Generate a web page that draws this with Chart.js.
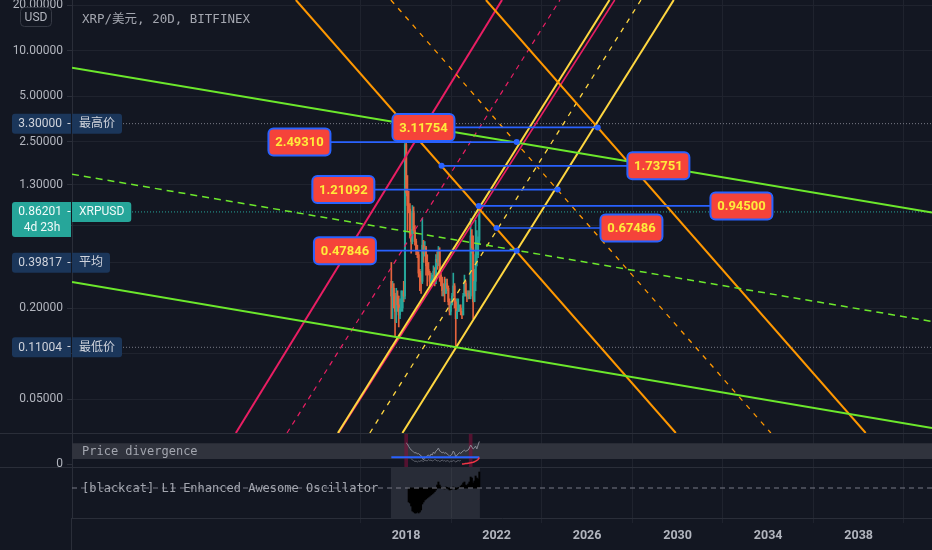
<!DOCTYPE html>
<html lang="zh-CN">
<head>
<meta charset="UTF-8">
<title>XRP/美元, 20D, BITFINEX</title>
<script src="https://cdn.jsdelivr.net/npm/chart.js@4.4.1/dist/chart.umd.min.js"></script>
<style>
  html, body { margin: 0; padding: 0; }
  body { width: 932px; height: 550px; background: #2a2e39; position: relative; overflow: hidden; }
  .pane { position: absolute; left: 0; width: 932px; background: #131722; }
  canvas { display: block; }
</style>
</head>
<body>
<div class="pane" style="top:0;height:433px"><canvas id="mainChart" width="932" height="433"></canvas></div>
<div class="pane" style="top:434px;height:33px"><canvas id="divChart" width="932" height="33"></canvas></div>
<div class="pane" style="top:468px;height:82px"><canvas id="oscChart" width="932" height="82"></canvas></div>
<script>
// ---------- data ----------
const candleStart = 2017.35;          // first 20D bar, decimal year
const candleStep = 20 / 365.25;       // one 20D bar in years

const candleOpen  = [0.30,0.24,0.27,0.24,0.19,0.24,0.21,0.18,0.20,0.20, 0.25,0.24,2.40,1.15,0.95,0.90,0.62,0.55,0.85,0.65,
                     0.55,0.48,0.45,0.34,0.33,0.30,0.52,0.46,0.50,0.38, 0.36,0.34,0.30,0.31,0.31,0.35,0.30,0.42,0.40,0.48,
                     0.33,0.31,0.26,0.26,0.25,0.29,0.27,0.22,0.19,0.21, 0.24,0.28,0.22,0.17,0.19,0.20,0.20,0.19,0.18,0.24,
                     0.29,0.25,0.24,0.25,0.24,0.60,0.50,0.22,0.30,0.45, 0.45,0.56];
const candleHigh  = [0.40,0.30,0.29,0.25,0.27,0.26,0.24,0.23,0.26,0.26, 0.30,2.60,3.30,1.50,1.18,0.98,0.66,0.95,0.93,0.70,
                     0.57,0.52,0.47,0.36,0.35,0.78,0.56,0.55,0.51,0.45, 0.40,0.35,0.34,0.33,0.38,0.37,0.45,0.47,0.51,0.50,
                     0.34,0.32,0.29,0.32,0.31,0.31,0.28,0.23,0.22,0.25, 0.34,0.29,0.23,0.23,0.23,0.21,0.21,0.19,0.25,0.33,
                     0.30,0.26,0.26,0.26,0.78,0.66,0.60,0.36,0.76,0.65, 0.59,0.95];
const candleLow   = [0.17,0.17,0.20,0.13,0.16,0.19,0.15,0.17,0.19,0.19, 0.22,0.23,1.10,0.65,0.85,0.58,0.46,0.53,0.62,0.52,
                     0.45,0.43,0.32,0.26,0.25,0.29,0.40,0.44,0.33,0.28, 0.33,0.28,0.28,0.30,0.30,0.28,0.29,0.36,0.38,0.30,
                     0.28,0.24,0.24,0.22,0.25,0.26,0.21,0.18,0.18,0.21, 0.24,0.20,0.11,0.17,0.19,0.19,0.18,0.17,0.18,0.24,
                     0.24,0.22,0.23,0.23,0.23,0.46,0.17,0.22,0.26,0.38, 0.43,0.53];
const candleClose = [0.24,0.27,0.24,0.19,0.24,0.21,0.18,0.20,0.20,0.25, 0.24,2.40,1.15,0.95,0.90,0.62,0.55,0.85,0.65,0.55,
                     0.48,0.45,0.34,0.33,0.30,0.52,0.46,0.50,0.38,0.36, 0.34,0.30,0.31,0.31,0.35,0.30,0.42,0.40,0.48,0.33,
                     0.31,0.26,0.26,0.25,0.29,0.27,0.22,0.19,0.21,0.24, 0.28,0.22,0.17,0.19,0.20,0.20,0.19,0.18,0.24,0.29,
                     0.25,0.24,0.25,0.24,0.60,0.50,0.22,0.30,0.45,0.45, 0.56,0.86201];

const priceTicks = [20, 10, 5, 2.5, 1.3, 0.7, 0.4, 0.2, 0.1, 0.05];
const yearTicks = [2018, 2022, 2026, 2030, 2034, 2038];

const highPrice = 3.30000, lastPrice = 0.86201, avgPrice = 0.39817, lowPrice = 0.11004;

// trend line anchors: [year, price]
const greenUpper  = [[2003.24, 7.72],  [2041.24, 0.855]];
const greenLower  = [[2003.24, 0.297], [2041.24, 0.0322]];
const greenMid    = [[2003.24, 1.53],  [2041.24, 0.163]];
const crimsonLow  = [[2010.48, 0.0299], [2022.24, 21.63]];
const crimsonMid  = [[2012.74, 0.0299], [2024.80, 21.63]];
const crimsonHigh = [[2015.02, 0.0299], [2027.22, 21.63]];
const yellowLow   = [[2014.99, 0.0299], [2026.99, 21.63]];
const yellowMid   = [[2016.40, 0.0299], [2028.38, 21.63]];
const yellowHigh  = [[2017.84, 0.0299], [2029.83, 21.63]];
const orangeLow   = [[2013.13, 21.63], [2029.92, 0.0299]];
const orangeMid   = [[2017.33, 21.63], [2034.12, 0.0299]];
const orangeHigh  = [[2021.53, 21.63], [2038.31, 0.0299]];

// callouts: price, label centre year, dot year
const calloutPrices     = [3.11754, 2.49310, 1.73751, 1.21092, 0.94500, 0.67486, 0.47846];
const calloutLabelYears = [2018.77, 2013.29, 2029.15, 2015.23, 2032.82, 2027.96, 2015.30];
const calloutDotYears   = [2026.47, 2022.89, 2019.57, 2024.70, 2021.21, 2022.00, 2022.89];

// price divergence pane
const divLight = Array(12).fill(null).concat([2.1,2.0,1.75,1.57,1.4,1.3,1.2,1.1,1.15,1.0, 1.05,0.9,0.85,0.6,0.4,0.7,0.6,0.85,0.9,0.75,
  1.0,0.9,1.2,1.05,1.3,1.4,1.6,1.3,1.25,1.1, 1.2,1.05,1.15,1.0,0.9,0.8,0.85,1.0,1.3,1.1, 0.7,0.9,1.0,1.15,1.05,1.2,1.3,1.4,1.25,1.35,
  1.4,1.6,1.9,1.7,1.5,1.6,1.8,1.5,1.9,2.25]);
const divDark = Array(16).fill(null).concat([0.55,0.4,0.35,0.25,0.3,0.2,0.3,0.25,0.35,0.3, 0.25,0.4,0.35,0.3,0.45,0.35,0.4,0.3,0.35,0.45,
  0.4,0.3,0.35,0.25,0.3,0.4,0.3,0.35,0.25,0.35, 0.3,0.2,0.3,0.25,0.35,0.3,0.2,0.3,0.35,0.3, 0.35]);
const divRed = Array(57).fill(null).concat([0.0,0.0,0.02,0.05,0.05,0.08,0.1,0.12,0.15,0.18,0.22,0.28,0.35,0.45,0.65]);
const divBaseline = 0.67;
const divBand = [0.5, 2.07];
const divFlagBars = [12, 64];

// oscillator pane
const oscHist = Array(14).fill(null).concat([-0.7,-0.75,-0.9,-1.15,-1.2,-1.25,-1.25,-1.2,-1.25,-1.2, -1.1,-0.8,-0.7,-0.6,-0.55,-0.5,-0.45,-0.4,-0.35,-0.3,
  -0.25,-0.18,-0.1,0.15,0.3,0.15,0.05,0.02,-0.03,-0.05, 0.05,0.03,-0.05,-0.1,-0.08,-0.05,0.05,0.03,-0.08,-0.05,
  0.02,0.03,0.1,0.15,0.25,0.3,0.15,0.12,0.2,0.3, 0.55,0.5,0.25,0.35,0.6,0.5,0.45,0.8]);

// ---------- setup ----------
const X_MIN = 2003.24, X_MAX = 2041.24;
const Y_MIN = 0.0299, Y_MAX = 21.63;
const DIV_MIN = -0.3, DIV_MAX = 3;
const OSC_MIN = -1.5, OSC_MAX = 1;

const UP = '#26a69a', DOWN = '#e4633d';
const GRID = '#1f232e', LINE = '#2a2e39', TXT = '#b2b5be';
Chart.defaults.font.family = 'Roboto';
Chart.defaults.animation = false;

const candleDates = candleClose.map((_, i) => candleStart + i * candleStep);
const candleColors = candleClose.map((c, i) => c >= candleOpen[i] ? UP : DOWN);

function fixY(s) { s.width = 72; s.paddingTop = 0; s.paddingBottom = 0; }
function noX(s) { s.height = 0; s.paddingLeft = 0; s.paddingRight = 0; }

function xScale(extra) {
  return Object.assign({
    type: 'linear', min: X_MIN, max: X_MAX, offset: false,
    afterBuildTicks: s => { s.ticks = yearTicks.map(v => ({ value: v })); },
    afterFit: noX,
    ticks: { display: false },
    grid: { color: GRID, drawTicks: false },
    border: { display: false }
  }, extra || {});
}

function seg(pts, color, width, dash, order) {
  return {
    type: 'line', data: pts.map(p => ({ x: p[0], y: p[1] })),
    borderColor: color, borderWidth: width, borderDash: dash || [],
    pointRadius: 0, tension: 0, order: order
  };
}

const baseOptions = {
  responsive: false, events: [],
  layout: { padding: 0, autoPadding: false },
  plugins: { legend: { display: false }, tooltip: { enabled: false } }
};

// ---------- main pane ----------
const G = '#6ce82c', CR = '#e91e63', OR = '#ff9800', YE = '#ffd740', BLUE = '#2962ff';

const mainSets = [];
calloutPrices.forEach((p, i) => {
  mainSets.push({
    type: 'line',
    data: [{ x: calloutLabelYears[i], y: p }, { x: calloutDotYears[i], y: p }],
    borderColor: BLUE, borderWidth: 1.6, pointRadius: [0, 3],
    pointBackgroundColor: BLUE, pointBorderWidth: 0, order: 0
  });
});
mainSets.push(
  seg(greenUpper, G, 2, [], 1), seg(greenLower, G, 2, [], 1), seg(greenMid, G, 1.5, [7, 5], 1),
  seg(orangeLow, OR, 2, [], 1), seg(orangeMid, OR, 1.3, [5, 6], 1), seg(orangeHigh, OR, 2, [], 1),
  seg(yellowLow, YE, 2, [], 1), seg(yellowMid, YE, 1.3, [5, 6], 1), seg(yellowHigh, YE, 2, [], 1),
  seg(crimsonLow, CR, 2, [], 1), seg(crimsonMid, CR, 1.2, [5, 5], 1), seg(crimsonHigh, CR, 1.6, [], 1)
);
mainSets.push({
  type: 'bar', label: 'body', grouped: false, barThickness: 1.4, order: 2,
  data: candleDates.map((d, i) => ({ x: d, y: [Math.min(candleOpen[i], candleClose[i]), Math.max(candleOpen[i], candleClose[i])] })),
  backgroundColor: candleColors
}, {
  type: 'bar', label: 'wick', grouped: false, barThickness: 1, order: 3,
  data: candleDates.map((d, i) => ({ x: d, y: [candleLow[i], candleHigh[i]] })),
  backgroundColor: candleColors
});
mainSets.push(
  seg([[X_MIN, highPrice], [X_MAX, highPrice]], '#787b86', 1, [1, 2], 4),
  seg([[X_MIN, lastPrice], [X_MAX, lastPrice]], UP, 1, [1, 2], 4),
  seg([[X_MIN, lowPrice], [X_MAX, lowPrice]], '#787b86', 1, [1, 2], 4)
);

function axisTag(ctx, cy, value, name, bg, fg, sub) {
  ctx.font = '12px Roboto, "Noto Sans CJK SC"';
  const nameW = ctx.measureText(name).width;
  ctx.fillStyle = bg;
  ctx.beginPath(); ctx.roundRect(12, cy - 10, 59, sub ? 35 : 20, [3, 0, 0, 3]); ctx.fill();
  ctx.beginPath(); ctx.roundRect(72, cy - 10, nameW + 14, 20, [0, 3, 3, 0]); ctx.fill();
  ctx.fillStyle = fg; ctx.textBaseline = 'middle';
  ctx.textAlign = 'right'; ctx.fillText(value, 62, cy + 0.5);
  ctx.textAlign = 'center'; ctx.fillText('-', 69, cy);
  ctx.textAlign = 'left'; ctx.fillText(name, 79, cy + 0.5);
  if (sub) { ctx.textAlign = 'center'; ctx.fillText(sub, 42, cy + 16); }
}

const mainOverlay = {
  id: 'mainOverlay',
  afterDatasetsDraw(chart) {
    const { ctx, scales: { x, y } } = chart;
    ctx.save();
    ctx.font = 'bold 13px Roboto';
    ctx.textAlign = 'center'; ctx.textBaseline = 'middle';
    calloutPrices.forEach((p, i) => {
      const cx = x.getPixelForValue(calloutLabelYears[i]);
      const cy = y.getPixelForValue(p);
      ctx.beginPath();
      ctx.roundRect(cx - 31, cy - 13.5, 62, 27, 5);
      ctx.fillStyle = '#f5433a'; ctx.fill();
      ctx.lineWidth = 2; ctx.strokeStyle = BLUE; ctx.stroke();
      ctx.fillStyle = '#ffeb3b';
      ctx.fillText(p.toFixed(5), cx, cy + 1);
    });
    ctx.restore();
  },
  afterDraw(chart) {
    const { ctx, scales: { y } } = chart;
    ctx.save();
    ctx.font = '12.5px "DejaVu Sans Mono", "Noto Sans CJK SC"';
    ctx.fillStyle = '#a3a6af'; ctx.textAlign = 'left'; ctx.textBaseline = 'middle';
    ctx.fillText('XRP/美元, 20D, BITFINEX', 82, 20);
    ctx.beginPath(); ctx.roundRect(20.5, 7.5, 31, 19, 4);
    ctx.strokeStyle = '#363a45'; ctx.lineWidth = 1; ctx.stroke();
    ctx.font = '12px Roboto'; ctx.fillStyle = TXT; ctx.textAlign = 'center';
    ctx.fillText('USD', 36, 17.5);
    axisTag(ctx, y.getPixelForValue(highPrice), highPrice.toFixed(5), '最高价', '#1b365a', '#d1d4dc');
    axisTag(ctx, y.getPixelForValue(lastPrice), lastPrice.toFixed(5), 'XRPUSD', UP, '#f0faf9', '4d 23h');
    axisTag(ctx, y.getPixelForValue(avgPrice), avgPrice.toFixed(5), '平均', '#1b365a', '#d1d4dc');
    axisTag(ctx, y.getPixelForValue(lowPrice), lowPrice.toFixed(5), '最低价', '#1b365a', '#d1d4dc');
    ctx.restore();
  }
};

new Chart(document.getElementById('mainChart'), {
  type: 'bar',
  data: { datasets: mainSets },
  options: Object.assign({}, baseOptions, {
    scales: {
      x: xScale(),
      y: {
        type: 'logarithmic', min: Y_MIN, max: Y_MAX,
        afterFit: fixY,
        afterBuildTicks: s => { s.ticks = priceTicks.map(v => ({ value: v })); },
        ticks: { color: TXT, font: { size: 12 }, padding: 4, autoSkip: false, callback: v => Number(v).toFixed(5) },
        grid: { color: GRID, tickColor: LINE, tickLength: 5 },
        border: { color: LINE }
      }
    }
  }),
  plugins: [mainOverlay]
});

// ---------- price divergence pane ----------
const divOverlay = {
  id: 'divOverlay',
  afterDraw(chart) {
    const { ctx, scales: { y } } = chart;
    ctx.save();
    ctx.font = '12px "DejaVu Sans Mono"';
    ctx.fillStyle = '#a3a6af'; ctx.textAlign = 'left'; ctx.textBaseline = 'middle';
    ctx.fillText('Price divergence', 82, y.getPixelForValue((divBand[0] + divBand[1]) / 2) + 1);
    ctx.restore();
  }
};

new Chart(document.getElementById('divChart'), {
  type: 'bar',
  data: {
    datasets: [
      seg(candleDates.map((d, i) => [d, divRed[i]]), '#f23645', 1.5, [], 0),
      seg([[candleDates[0], divBaseline], [candleDates[candleDates.length - 1], divBaseline]], BLUE, 2, [], 1),
      seg(candleDates.map((d, i) => [d, divLight[i]]), '#868993', 1, [], 2),
      seg(candleDates.map((d, i) => [d, divDark[i]]), '#5d606b', 1, [], 2),
      {
        type: 'bar', grouped: false, barThickness: 3, order: 3,
        data: divFlagBars.map(i => ({ x: candleDates[i], y: [DIV_MIN, DIV_MAX] })),
        backgroundColor: 'rgba(136, 14, 60, 0.55)'
      },
      Object.assign(seg([[X_MIN, divBand[1]], [X_MAX, divBand[1]]], 'rgba(0,0,0,0)', 0, [], 4),
        { fill: { value: divBand[0] }, backgroundColor: '#30333d' })
    ]
  },
  options: Object.assign({}, baseOptions, {
    scales: {
      x: xScale(),
      y: {
        type: 'linear', min: DIV_MIN, max: DIV_MAX,
        afterFit: fixY,
        afterBuildTicks: s => { s.ticks = [{ value: 0 }]; },
        ticks: { color: TXT, font: { size: 12 }, padding: 4 },
        grid: { drawOnChartArea: false, tickColor: LINE, tickLength: 5 },
        border: { color: LINE }
      }
    }
  }),
  plugins: [divOverlay]
});

// ---------- oscillator pane + time axis ----------
const oscOverlay = {
  id: 'oscOverlay',
  afterDraw(chart) {
    const { ctx, chartArea, scales: { y } } = chart;
    ctx.save();
    ctx.font = '12px "DejaVu Sans Mono"';
    ctx.fillStyle = '#a3a6af'; ctx.textAlign = 'left'; ctx.textBaseline = 'middle';
    ctx.fillText('[blackcat] L1 Enhanced Awesome Oscillator', 82, y.getPixelForValue(0) + 1);
    ctx.strokeStyle = LINE; ctx.lineWidth = 1;
    ctx.beginPath(); ctx.moveTo(71.5, chartArea.bottom); ctx.lineTo(71.5, chart.height); ctx.stroke();
    ctx.restore();
  }
};

const last = candleDates.length - 1;
new Chart(document.getElementById('oscChart'), {
  type: 'bar',
  data: {
    datasets: [
      seg([[X_MIN, 0], [X_MAX, 0]], '#787b86', 1.2, [5, 4], 0),
      {
        type: 'bar', grouped: false, barThickness: 1.3, order: 1,
        data: candleDates.map((d, i) => ({ x: d, y: oscHist[i] })),
        backgroundColor: '#000000'
      },
      Object.assign(seg([[candleDates[0] - candleStep / 2, OSC_MAX], [candleDates[last] + candleStep / 2, OSC_MAX]], 'rgba(0,0,0,0)', 0, [], 2),
        { fill: { value: OSC_MIN }, backgroundColor: 'rgba(120,123,134,0.22)' })
    ]
  },
  options: Object.assign({}, baseOptions, {
    scales: {
      x: xScale({
        afterFit: s => { s.height = 32; s.paddingLeft = 0; s.paddingRight = 0; },
        ticks: { display: true, color: TXT, font: { size: 12.5, weight: 'bold' }, padding: 5, maxRotation: 0, callback: v => String(v) },
        grid: { color: GRID, tickColor: GRID, tickLength: 5 },
        border: { display: true, color: LINE }
      }),
      y: {
        type: 'linear', min: OSC_MIN, max: OSC_MAX,
        afterFit: fixY,
        ticks: { display: false },
        grid: { display: false },
        border: { color: LINE }
      }
    }
  }),
  plugins: [oscOverlay]
});
</script>
</body>
</html>
